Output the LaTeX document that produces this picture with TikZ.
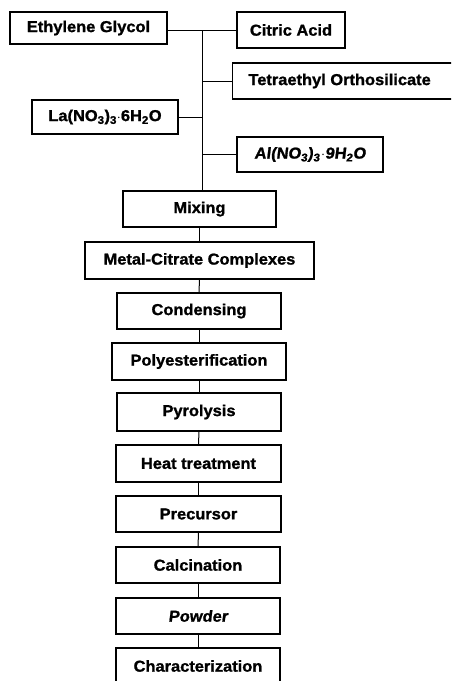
\documentclass[tikz,border=0pt]{standalone}
\usepackage{fontspec}
\setmainfont{Liberation Sans}[FakeStretch=1.04,FakeBold=1.2]
\newfontfamily\slantfont{Liberation Sans}[FakeStretch=1.04,FakeBold=1.2,FakeSlant=0.12]
\begin{document}
\begin{tikzpicture}[x=1pt,y=-1pt,
  box/.style={draw,line width=1.3pt,rectangle,inner sep=0pt,
    minimum height=36pt,font=\fontsize{15.8}{17}\selectfont\bfseries},
  link/.style={line width=1pt}]
\clip (0,0) rectangle (451,681);
\fill[white] (0,0) rectangle (451,681);
\node[box,minimum width=157pt,minimum height=32pt] (eg) at (88.5,28) {Ethylene Glycol};
\node[box,minimum width=108pt] (ca) at (291,30) {Citric Acid};
\node[box,minimum width=240pt,anchor=west] (teos) at (232,81) {\hspace*{-26pt}Tetraethyl Orthosilicate};
\node[box,minimum width=146pt,minimum height=34pt] (la) at (105,117) {La(NO\textsubscript{3})\textsubscript{3}$\cdot$6H\textsubscript{2}O};
\node[box,minimum width=146pt,minimum height=35pt] (al) at (310,154.5) {\slantfont Al(NO\textsubscript{3})\textsubscript{3}\kern1pt$\cdot$9H\textsubscript{2}O};
\node[box,minimum width=153pt] (mix) at (199.5,209) {Mixing};
\node[box,minimum width=229pt,minimum height=37pt] (mcc) at (199.5,260.5) {Metal-Citrate Complexes};
\node[box,minimum width=164pt] (cond) at (199,311) {Condensing};
\node[box,minimum width=174pt,minimum height=37pt] (poly) at (199,361.5) {Polyesterification};
\node[box,minimum width=164pt,minimum height=38pt] (pyro) at (199,412) {Pyrolysis};
\node[box,minimum width=165pt,minimum height=37pt] (heat) at (198.5,463.5) {Heat treatment};
\node[box,minimum width=165pt] (prec) at (198.5,514) {Precursor};
\node[box,minimum width=164pt] (calc) at (198,565) {Calcination};
\node[box,minimum width=164pt] (pow) at (198,616) {\slantfont Powder};
\node[box,minimum width=164pt] (char) at (198,666) {Characterization};
\coordinate (top) at (202.5,30);
\draw[link] (eg.east |- ca.west) -- (ca.west);
\draw[link] (top) -- (top |- mix.north);
\draw[link] (top |- teos.west) -- (teos.west);
\draw[link] (la.east) -- (top |- la.east);
\draw[link] (top |- al.west) -- (al.west);
\draw[link] (mix) -- (mcc);
\draw[link] (mcc) -- (cond);
\draw[link] (cond) -- (poly);
\draw[link] (poly) -- (pyro);
\draw[link] (pyro) -- (heat);
\draw[link] (heat) -- (prec);
\draw[link] (prec) -- (calc);
\draw[link] (calc) -- (pow);
\draw[link] (pow) -- (char);
\end{tikzpicture}
\end{document}
